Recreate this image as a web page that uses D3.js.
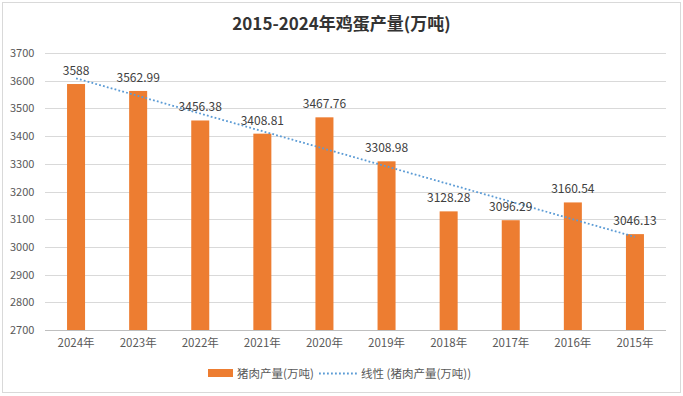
<!DOCTYPE html>
<html>
<head>
<meta charset="utf-8">
<script src="https://cdn.jsdelivr.net/npm/d3@7/dist/d3.min.js"></script>
<style>
  body { margin: 0; background: #fff; }
  text { font-family: "Noto Sans CJK SC", "Noto Sans", sans-serif; }
</style>
</head>
<body>
<div id="chart"></div>
<script>
var years = ["2024年","2023年","2022年","2021年","2020年","2019年","2018年","2017年","2016年","2015年"];
var output = [3588, 3562.99, 3456.38, 3408.81, 3467.76, 3308.98, 3128.28, 3096.29, 3160.54, 3046.13];
var yTicks = [2700, 2800, 2900, 3000, 3100, 3200, 3300, 3400, 3500, 3600, 3700];
var titleText = "2015-2024年鸡蛋产量(万吨)";
var seriesName = "猪肉产量(万吨)";
var trendName = "线性 (猪肉产量(万吨))";

var W = 683, H = 396;
var margin = {left: 45, right: 17, top: 53, bottom: 66};
var width = W - margin.left - margin.right;
var height = H - margin.top - margin.bottom;

var svg = d3.select("#chart").append("svg")
  .attr("width", W)
  .attr("height", H);

// outer frame
svg.append("rect")
  .attr("x", 2.5).attr("y", 2.5)
  .attr("width", W - 5).attr("height", H - 6)
  .attr("fill", "#fff")
  .attr("stroke", "#d9d9d9");

svg.append("text")
  .text(titleText)
  .attr("x", W / 2)
  .attr("y", 30)
  .attr("text-anchor", "middle")
  .attr("font-size", "17px")
  .attr("font-weight", "bold")
  .attr("fill", "#333");

var g = svg.append("g")
  .attr("transform", "translate(" + margin.left + "," + margin.top + ")");

var x = d3.scaleBand()
  .domain(years)
  .range([0, width])
  .paddingInner(0.71)
  .paddingOuter(0.355);

var y = d3.scaleLinear()
  .domain([2700, 3700])
  .range([height, 0]);

// gridlines
g.append("g").attr("class", "grid")
  .selectAll("line")
  .data(yTicks)
  .enter().append("line")
    .attr("x1", 0).attr("x2", width)
    .attr("y1", function(d) { return Math.round(y(d)) + 0.5; })
    .attr("y2", function(d) { return Math.round(y(d)) + 0.5; })
    .attr("stroke", function(d) { return d == 2700 ? "#bfbfbf" : "#d9d9d9"; });

// y axis labels
var yAxis = d3.axisLeft(y).tickValues(yTicks).tickFormat(d3.format("d")).tickSize(0).tickPadding(10);
var ya = g.append("g").call(yAxis);
ya.select(".domain").remove();
ya.selectAll("text")
  .attr("x", -35)
  .attr("text-anchor", "start")
  .attr("font-size", "11px")
  .attr("fill", "#595959")
  .style("font-family", '"Noto Sans CJK SC", sans-serif');

// x axis labels
var xAxis = d3.axisBottom(x).tickSize(0).tickPadding(9);
var xa = g.append("g")
  .attr("transform", "translate(0," + height + ")")
  .call(xAxis);
xa.select(".domain").remove();
xa.selectAll("text")
  .attr("font-size", "11.5px")
  .attr("fill", "#595959")
  .style("font-family", '"Noto Sans CJK SC", sans-serif');

// bars
g.selectAll(".bar")
  .data(output)
  .enter().append("rect")
    .attr("class", "bar")
    .attr("x", function(d, i) { return x(years[i]); })
    .attr("width", x.bandwidth())
    .attr("y", function(d) { return y(d); })
    .attr("height", function(d) { return height - y(d); })
    .attr("fill", "#ED7D31");

// linear trendline (least squares over category index)
var n = output.length;
var mx = (n + 1) / 2, my = d3.mean(output);
var sxy = 0, sxx = 0;
output.forEach(function(d, i) { sxy += (i + 1 - mx) * (d - my); sxx += (i + 1 - mx) * (i + 1 - mx); });
var slope = sxy / sxx, icpt = my - slope * mx;
var cx = function(i) { return x(years[i]) + x.bandwidth() / 2; };
g.append("line")
  .attr("x1", cx(0)).attr("y1", y(icpt + slope * 1))
  .attr("x2", cx(n - 1)).attr("y2", y(icpt + slope * n))
  .attr("stroke", "#5B9BD5")
  .attr("stroke-width", 1.8)
  .attr("stroke-dasharray", "1.8,2.2");

// data labels
g.selectAll(".lbl")
  .data(output)
  .enter().append("text")
    .attr("class", "lbl")
    .attr("x", function(d, i) { return cx(i); })
    .attr("y", function(d) { return y(d) - 9; })
    .attr("text-anchor", "middle")
    .attr("font-size", "12px")
    .attr("fill", "#404040")
    .text(function(d) { return d; });

// legend
var lg = svg.append("g").attr("transform", "translate(0,373)");
lg.append("rect")
  .attr("x", 208).attr("y", -4)
  .attr("width", 25).attr("height", 8)
  .attr("fill", "#ED7D31");
lg.append("text")
  .attr("x", 237).attr("y", 4.5)
  .attr("font-size", "11.5px")
  .attr("fill", "#595959")
  .text(seriesName);
lg.append("line")
  .attr("x1", 319).attr("x2", 357)
  .attr("y1", 0.5).attr("y2", 0.5)
  .attr("stroke", "#5B9BD5")
  .attr("stroke-width", 1.8)
  .attr("stroke-dasharray", "1.8,2.2");
lg.append("text")
  .attr("x", 361).attr("y", 4.5)
  .attr("font-size", "11.5px")
  .attr("fill", "#595959")
  .text(trendName);
</script>
</body>
</html>
